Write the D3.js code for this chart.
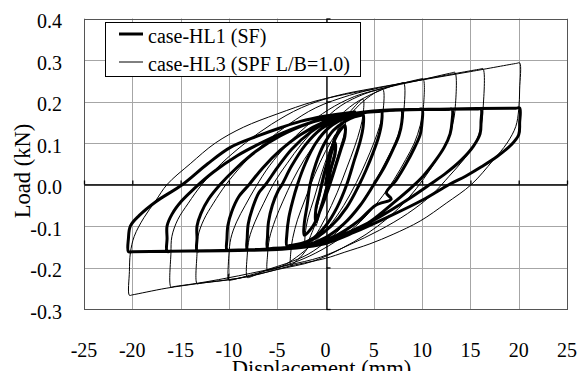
<!DOCTYPE html>
<html>
<head>
<meta charset="utf-8">
<script src="https://cdn.jsdelivr.net/npm/d3@7"></script>
<style>
  body { margin: 0; background: #fff; }
  svg { display: block; }
  text { font-family: "Liberation Serif", "Times New Roman", Times, serif; fill: #000; }
</style>
</head>
<body>
<svg id="chart" width="577" height="371"></svg>
<script>
// Axis ticks and labels
const xTicks = [-25, -20, -15, -10, -5, 0, 5, 10, 15, 20, 25];
const xTickLabels = ["-25", "-20", "-15", "-10", "-5", "0", "5", "10", "15", "20", "25"];
const yTicks = [-0.3, -0.2, -0.1, 0.0, 0.1, 0.2, 0.3, 0.4];
const yTickLabels = ["-0.3", "-0.2", "-0.1", "0.0", "0.1", "0.2", "0.3", "0.4"];
const xTitle = "Displacement (mm)";
const yTitle = "Load (kN)";
const seriesNames = ["case-HL1 (SF)", "case-HL3 (SPF L/B=1.0)"];

// case-HL1 (SF): [displacement mm, load kN], cyclic loading history
const hl1 = [
  [0, 0], [0.3, 0.04], [0.6, 0.075], [1.0, 0.1],
  [1.0, 0.075], [0.6, 0.04], [0.1, -0.01], [-0.4, -0.05], [-1.0, -0.09],
  [-1.0, -0.06], [-0.6, -0.02], [-0.1, 0.03], [0.4, 0.07], [1.0, 0.11], [1.5, 0.13], [2.0, 0.142],
  [2.0, 0.115], [1.6, 0.085], [1.0, 0.04], [0.3, -0.01], [-0.5, -0.06], [-1.3, -0.1], [-2.2, -0.122],
  [-2.2, -0.095], [-1.9, -0.05], [-1.6, 0.0], [-1.0, 0.05], [-0.2, 0.095], [0.8, 0.13], [2.0, 0.152], [3.0, 0.163], [3.7, 0.167], [3.9, 0.168],
  [3.9, 0.14], [3.6, 0.105], [3.0, 0.06], [2.2, 0.0], [1.2, -0.055], [0.0, -0.1], [-1.2, -0.128], [-2.5, -0.142], [-3.7, -0.147], [-4.0, -0.148],
  [-4.0, -0.12], [-3.8, -0.08], [-3.4, -0.04], [-2.9, 0.0], [-2.1, 0.05], [-1.0, 0.1], [0.4, 0.138], [2.2, 0.162], [4.0, 0.173], [5.5, 0.176], [5.8, 0.176],
  [5.8, 0.148], [5.5, 0.115], [4.9, 0.075], [4.2, 0.035], [3.5, 0.0], [2.2, -0.055], [0.6, -0.1], [-1.1, -0.13], [-3.0, -0.148], [-5.6, -0.154], [-6.0, -0.154],
  [-6.0, -0.125], [-5.9, -0.09], [-5.5, -0.05], [-4.9, -0.015], [-4.5, 0.0], [-3.5, 0.045], [-2.1, 0.095], [-0.4, 0.135], [1.6, 0.16], [4.5, 0.175], [7.5, 0.179], [7.9, 0.179],
  [7.9, 0.15], [7.6, 0.118], [7.0, 0.085], [6.1, 0.042], [5.0, 0.0], [3.6, -0.05], [1.9, -0.095], [0.0, -0.128], [-2.2, -0.148], [-5.0, -0.155], [-7.7, -0.157], [-8.1, -0.157],
  [-8.1, -0.128], [-8.0, -0.095], [-7.6, -0.06], [-6.9, -0.02], [-6.2, 0.0], [-5.0, 0.04], [-3.5, 0.085], [-1.6, 0.125], [0.6, 0.155], [3.2, 0.172], [6.5, 0.179], [9.6, 0.181], [10.0, 0.181],
  [10.0, 0.152], [9.8, 0.12], [9.2, 0.088], [8.3, 0.048], [7.3, 0.01], [6.3, -0.02], [6.8, -0.035], [5.2, -0.05], [3.4, -0.088], [1.2, -0.122], [-1.3, -0.145], [-4.0, -0.155], [-7.0, -0.158], [-9.8, -0.159], [-10.2, -0.159],
  [-10.2, -0.13], [-10.1, -0.098], [-9.7, -0.065], [-9.0, -0.03], [-7.9, 0.0], [-6.5, 0.04], [-4.7, 0.082], [-2.6, 0.12], [-0.2, 0.15], [2.6, 0.17], [6.0, 0.179], [9.5, 0.181], [12.7, 0.181], [13.1, 0.181],
  [13.1, 0.152], [12.9, 0.122], [12.3, 0.09], [11.3, 0.055], [10.1, 0.02], [9.0, -0.005], [7.0, -0.045], [4.6, -0.09], [1.9, -0.125], [-1.0, -0.146], [-4.5, -0.156], [-9.0, -0.159], [-12.9, -0.16], [-13.3, -0.16],
  [-13.3, -0.13], [-13.3, -0.1], [-12.9, -0.07], [-12.1, -0.035], [-10.9, 0.0], [-9.3, 0.038], [-7.2, 0.08], [-4.7, 0.117], [-1.8, 0.147], [1.5, 0.166], [5.0, 0.177], [10.0, 0.181], [15.7, 0.182], [16.1, 0.182],
  [16.1, 0.152], [16.0, 0.122], [15.3, 0.092], [14.1, 0.06], [12.5, 0.028], [10.8, 0.0], [8.4, -0.038], [5.6, -0.078], [2.6, -0.113], [-0.5, -0.14], [-4.0, -0.153], [-9.0, -0.158], [-16.0, -0.161], [-16.4, -0.161],
  [-16.4, -0.13], [-16.4, -0.1], [-15.9, -0.072], [-14.9, -0.04], [-13.6, -0.01], [-11.6, 0.03], [-9.1, 0.07], [-6.5, 0.102], [-3.6, 0.132], [-0.5, 0.156], [3.0, 0.171], [7.0, 0.179], [13.0, 0.182], [19.7, 0.184], [20.1, 0.184],
  [20.1, 0.15], [20.0, 0.12], [19.2, 0.095], [17.8, 0.068], [16.1, 0.042], [14.5, 0.02], [12.8, 0.0], [10.0, -0.038], [6.5, -0.078], [3.0, -0.115], [0.0, -0.142], [-3.0, -0.153], [-8.0, -0.158], [-14.0, -0.16], [-20.0, -0.162], [-20.4, -0.162],
  [-20.4, -0.13], [-20.2, -0.1], [-19.3, -0.075], [-17.6, -0.042], [-14.8, 0.0], [-12.2, 0.05], [-9.8, 0.09], [-7.0, 0.117], [-4.5, 0.138], [-2.6, 0.152], [0.0, 0.165], [3.0, 0.175]
];

// case-HL3 (SPF L/B=1.0): [displacement mm, load kN], cyclic loading history
const hl3 = [
  [0, 0], [0.3, 0.05], [0.6, 0.09], [1.0, 0.12],
  [1.0, 0.09], [0.6, 0.05], [0.1, 0.0], [-0.4, -0.05], [-1.0, -0.1],
  [-1.0, -0.07], [-0.6, -0.03], [-0.1, 0.02], [0.4, 0.07], [1.0, 0.115], [1.5, 0.145], [2.0, 0.165],
  [2.0, 0.13], [1.6, 0.095], [1.0, 0.05], [0.3, -0.005], [-0.5, -0.06], [-1.3, -0.11], [-2.1, -0.15],
  [-2.1, -0.12], [-1.8, -0.08], [-1.2, -0.035], [-0.5, 0.02], [0.3, 0.075], [1.2, 0.125], [2.2, 0.165], [3.1, 0.19], [3.6, 0.202], [3.9, 0.205],
  [3.9, 0.17], [3.6, 0.135], [3.0, 0.09], [2.2, 0.04], [1.2, -0.02], [0.0, -0.08], [-1.2, -0.13], [-2.4, -0.17], [-3.3, -0.19], [-3.6, -0.196],
  [-3.6, -0.165], [-3.4, -0.13], [-2.9, -0.085], [-2.1, -0.035], [-1.1, 0.025], [0.0, 0.08], [1.3, 0.13], [2.8, 0.175], [4.3, 0.208], [5.6, 0.227], [5.95, 0.229],
  [5.95, 0.175], [5.6, 0.14], [5.0, 0.1], [4.2, 0.055], [3.2, 0.005], [1.9, -0.05], [0.4, -0.1], [-1.2, -0.14], [-3.0, -0.175], [-4.5, -0.197], [-5.7, -0.206], [-6.0, -0.207],
  [-6.0, -0.17], [-5.8, -0.13], [-5.2, -0.085], [-4.4, -0.04], [-3.4, 0.01], [-2.2, 0.06], [-0.7, 0.11], [1.0, 0.155], [3.0, 0.195], [5.0, 0.22], [6.5, 0.234], [7.8, 0.244], [8.1, 0.245],
  [8.1, 0.175], [7.8, 0.14], [7.2, 0.1], [6.3, 0.058], [5.2, 0.01], [3.7, -0.045], [2.0, -0.095], [0.2, -0.135], [-1.8, -0.168], [-4.0, -0.19], [-6.0, -0.205], [-7.8, -0.223], [-8.1, -0.224],
  [-8.1, -0.17], [-7.9, -0.13], [-7.3, -0.09], [-6.4, -0.045], [-5.3, 0.005], [-4.0, 0.05], [-2.4, 0.1], [-0.5, 0.148], [1.6, 0.19], [4.0, 0.218], [7.0, 0.238], [9.8, 0.254], [10.1, 0.255],
  [10.1, 0.178], [9.8, 0.142], [9.2, 0.1], [8.3, 0.06], [7.1, 0.012], [5.5, -0.04], [3.6, -0.09], [1.5, -0.13], [-1.0, -0.165], [-3.5, -0.19], [-6.5, -0.21], [-9.7, -0.23], [-10.0, -0.231],
  [-10.0, -0.215], [-10.1, -0.228], [-10.0, -0.17], [-9.8, -0.13], [-9.2, -0.09], [-8.3, -0.05], [-7.2, -0.005], [-5.8, 0.045], [-4.0, 0.095], [-2.0, 0.14], [0.3, 0.18], [3.0, 0.212], [6.0, 0.232], [9.5, 0.25], [13.1, 0.269], [13.4, 0.27],
  [13.4, 0.178], [13.1, 0.14], [12.5, 0.1], [11.5, 0.06], [10.2, 0.015], [8.5, -0.035], [6.5, -0.08], [4.2, -0.12], [1.6, -0.155], [-1.3, -0.185], [-5.0, -0.205], [-9.0, -0.226], [-13.0, -0.238], [-13.3, -0.239],
  [-13.3, -0.165], [-13.2, -0.125], [-12.6, -0.085], [-11.6, -0.045], [-10.3, 0.0], [-8.5, 0.05], [-6.3, 0.1], [-3.8, 0.145], [-1.0, 0.185], [2.5, 0.215], [6.0, 0.235], [10.5, 0.255], [16.0, 0.278], [16.3, 0.279],
  [16.3, 0.178], [16.1, 0.14], [15.5, 0.1], [14.3, 0.06], [12.8, 0.02], [11.0, -0.025], [8.5, -0.07], [5.6, -0.11], [2.5, -0.145], [-0.5, -0.175], [-4.0, -0.195], [-9.0, -0.22], [-13.0, -0.237], [-15.7, -0.246], [-16.0, -0.247],
  [-16.0, -0.165], [-15.9, -0.125], [-15.3, -0.085], [-14.2, -0.045], [-12.8, 0.0], [-10.8, 0.05], [-8.3, 0.1], [-5.6, 0.145], [-2.5, 0.185], [1.0, 0.213], [5.0, 0.232], [10.0, 0.252], [15.0, 0.272], [19.8, 0.292], [20.1, 0.293],
  [20.1, 0.23], [20.0, 0.18], [19.7, 0.14], [18.8, 0.1], [17.3, 0.057], [15.1, 0.0], [12.5, -0.045], [9.8, -0.088], [7.0, -0.12], [4.6, -0.143], [2.0, -0.163], [0.0, -0.178], [-3.6, -0.196], [-8.0, -0.222], [-13.0, -0.238], [-16.5, -0.25], [-20.0, -0.266], [-20.3, -0.267],
  [-20.3, -0.21], [-20.2, -0.165], [-19.8, -0.125], [-18.8, -0.08], [-17.6, -0.04], [-16.4, 0.0], [-14.0, 0.05], [-11.4, 0.1], [-8.5, 0.138], [-5.0, 0.17], [-1.2, 0.2], [2.0, 0.217], [5.0, 0.23]
];

const svg = d3.select("#chart");
const plot = { left: 84, right: 567, top: 18.5, bottom: 309 };

const x = d3.scaleLinear().domain([-25, 25]).range([plot.left, plot.right]);
const y = d3.scaleLinear().domain([-0.3, 0.4]).range([plot.bottom, plot.top]);

// Gridlines
const grid = svg.append("g").attr("stroke", "#a6a6a6").attr("stroke-width", 1);
grid.selectAll("line.v").data(xTicks).join("line")
  .attr("x1", d => Math.round(x(d)) + 0.5).attr("x2", d => Math.round(x(d)) + 0.5)
  .attr("y1", plot.top).attr("y2", plot.bottom);
grid.selectAll("line.h").data(yTicks).join("line")
  .attr("y1", d => Math.round(y(d)) + 0.5).attr("y2", d => Math.round(y(d)) + 0.5)
  .attr("x1", plot.left).attr("x2", plot.right);

// Plot area border
svg.append("rect")
  .attr("x", plot.left + 0.5).attr("y", Math.round(plot.top) + 0.5)
  .attr("width", plot.right - plot.left).attr("height", Math.round(plot.bottom) - Math.round(plot.top))
  .attr("fill", "none").attr("stroke", "#555").attr("stroke-width", 1);

// Axes crossing at zero, ticks pointing inward
const xAxis = svg.append("g")
  .attr("transform", `translate(0,${Math.round(y(0)) + 0.5})`)
  .call(d3.axisTop(x).tickValues(xTicks).tickSize(4).tickSizeOuter(0).tickFormat(""));
const yAxis = svg.append("g")
  .attr("transform", `translate(${Math.round(x(0)) + 0.5},0)`)
  .call(d3.axisRight(y).tickValues(yTicks).tickSize(4).tickSizeOuter(0).tickFormat(""));
[xAxis, yAxis].forEach(g => {
  g.select(".domain").attr("stroke", "#000").attr("stroke-width", 1.3);
  g.selectAll(".tick line").attr("stroke", "#000").attr("stroke-width", 1.3);
});

// Tick labels
svg.append("g").selectAll("text").data(xTicks).join("text")
  .attr("x", d => x(d)).attr("y", 356.5)
  .attr("text-anchor", "middle").attr("font-size", 20)
  .text((d, i) => xTickLabels[i]);
svg.append("g").selectAll("text").data(yTicks).join("text")
  .attr("x", 62).attr("y", d => y(d) + 9.5)
  .attr("text-anchor", "end").attr("font-size", 20)
  .text((d, i) => yTickLabels[i]);

// Axis titles
svg.append("text")
  .attr("x", (plot.left + plot.right) / 2 - 4).attr("y", 375.5)
  .attr("text-anchor", "middle").attr("font-size", 22.5)
  .text(xTitle);
svg.append("text")
  .attr("transform", `translate(30,171) rotate(-90)`)
  .attr("text-anchor", "middle").attr("font-size", 22.5)
  .text(yTitle);

// Series
const line = d3.line()
  .x(d => x(d[0])).y(d => y(d[1]))
  .curve(d3.curveCatmullRom.alpha(0.5));

svg.append("path").datum(hl1)
  .attr("d", line).attr("fill", "none")
  .attr("stroke", "#000").attr("stroke-width", 3)
  .attr("stroke-linejoin", "round").attr("stroke-linecap", "round");
svg.append("path").datum(hl3)
  .attr("d", line).attr("fill", "none")
  .attr("stroke", "#000").attr("stroke-width", 1)
  .attr("stroke-linejoin", "round");

// Legend
const legend = svg.append("g");
legend.append("rect")
  .attr("x", 105.5).attr("y", 22.5).attr("width", 255).attr("height", 54)
  .attr("fill", "#fff").attr("stroke", "#000").attr("stroke-width", 1);
const legendRows = [
  { name: seriesNames[0], width: 3, y: 34 },
  { name: seriesNames[1], width: 1, y: 62 }
];
legendRows.forEach(r => {
  legend.append("line")
    .attr("x1", 119).attr("x2", 143).attr("y1", r.y).attr("y2", r.y)
    .attr("stroke", "#000").attr("stroke-width", r.width);
  legend.append("text")
    .attr("x", 148).attr("y", r.y + 8.5).attr("font-size", 20)
    .text(r.name);
});
</script>
</body>
</html>
